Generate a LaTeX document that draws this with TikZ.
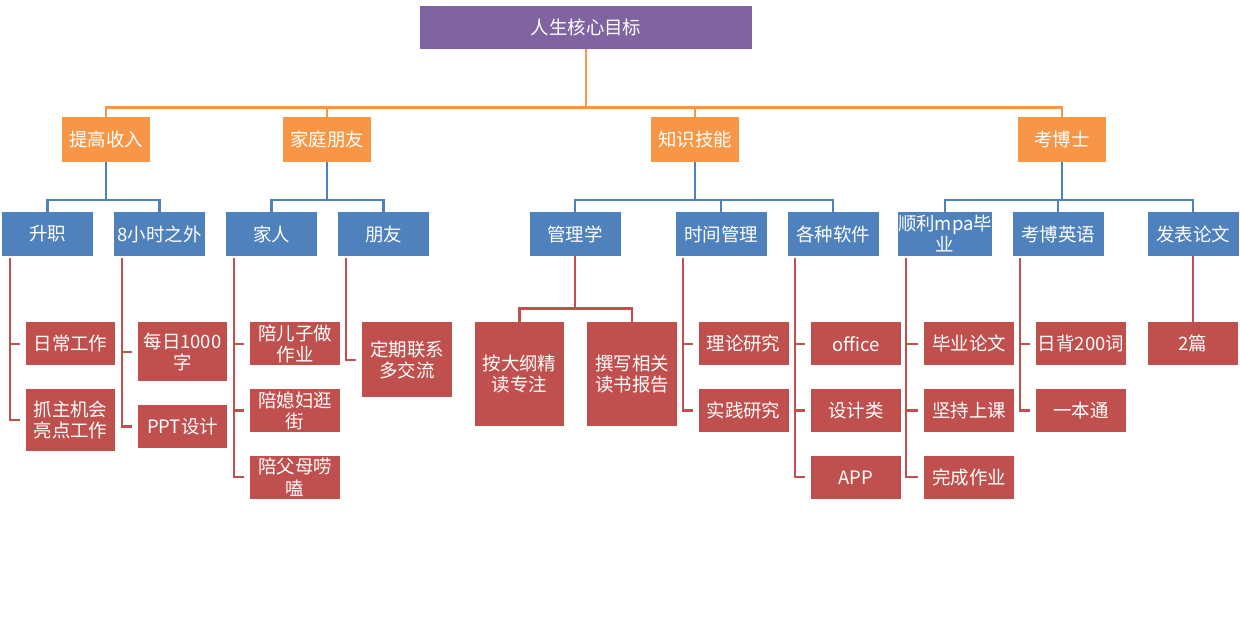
\documentclass[tikz,border=0pt]{standalone}
\usepackage{fontspec}
\newfontfamily\cjk{Noto Sans CJK SC}
\usetikzlibrary{positioning}
\definecolor{goalpurple}{HTML}{8064A2}
\definecolor{areaorange}{HTML}{F79646}
\definecolor{topicblue}{HTML}{4F81BD}
\definecolor{taskred}{HTML}{C0504D}
\tikzset{
  box/.style={rectangle, inner sep=0pt, align=center, text=white,
    font=\cjk\fontsize{10.5}{12}\selectfont},
  goal/.style={box, fill=goalpurple, minimum width=6.64cm, minimum height=0.86cm},
  area/.style={box, fill=areaorange, minimum width=1.76cm, minimum height=0.9cm},
  topic/.style={box, fill=topicblue, minimum width=1.82cm, minimum height=0.88cm},
  task/.style={box, fill=taskred, minimum width=1.8cm, minimum height=0.86cm},
}

\begin{document}
\begin{tikzpicture}[
  x=0.02cm, y=-0.02cm,
  node distance=0.46cm,
  arealine/.style={draw=areaorange, line width=1.6pt},
  topicline/.style={draw=topicblue, line width=1.3pt},
  taskline/.style={draw=taskred, line width=1.3pt}
]
\useasboundingbox (0,0) rectangle (1240,620);

% goal and areas
\node[goal] (root) at (586,27.5) {人生核心目标};
\node[area] (inc) at (106,139.5) {提高收入};
\node[area] (fam) at (327,139.5) {家庭朋友};
\node[area] (know) at (695,139.5) {知识技能};
\node[area] (phd) at (1062,139.5) {考博士};

% topics
\node[topic] (promo) at (47.5,234) {升职};
\node[topic] (extra) at (159.5,234) {8小时之外};
\node[topic] (kin) at (271.5,234) {家人};
\node[topic] (pal) at (383.5,234) {朋友};
\node[topic] (mgmt) at (575,234) {管理学};
\node[topic] (timem) at (721,234) {时间管理};
\node[topic] (soft) at (833,234) {各种软件};
\node[topic] (mpa) at (945,234) {顺利mpa毕\\业};
\node[topic] (eng) at (1058,234) {考博英语};
\node[topic] (paper) at (1193,234) {发表论文};

% tasks
\node[task, anchor=north] (w1) at (70.5,322) {日常工作};
\node[task, below=of w1, minimum height=1.24cm] (w2) {抓主机会\\亮点工作};
\node[task, anchor=north, minimum height=1.18cm] (x1) at (182.5,322) {每日1000\\字};
\node[task, below=of x1] (x2) {PPT设计};
\node[task, anchor=north] (k1) at (295,322) {陪儿子做\\作业};
\node[task, below=of k1] (k2) {陪媳妇逛\\街};
\node[task, below=of k2] (k3) {陪父母唠\\嗑};
\node[task, anchor=north, minimum height=1.5cm] (p1) at (407,322) {定期联系\\多交流};
\node[task, anchor=north, minimum height=2.08cm] (g1) at (519.5,322) {按大纲精\\读专注};
\node[task, anchor=north, minimum height=2.08cm] (g2) at (632,322) {撰写相关\\读书报告};
\node[task, anchor=north] (tm1) at (743.5,322) {理论研究};
\node[task, below=of tm1] (tm2) {实践研究};
\node[task, anchor=north] (s1) at (856,322) {office};
\node[task, below=of s1] (s2) {设计类};
\node[task, below=of s2] (s3) {APP};
\node[task, anchor=north] (m1) at (969,322) {毕业论文};
\node[task, below=of m1] (m2) {坚持上课};
\node[task, below=of m2] (m3) {完成作业};
\node[task, anchor=north] (e1) at (1081,322) {日背200词};
\node[task, below=of e1] (e2) {一本通};
\node[task, anchor=north] (n1) at (1193,322) {2篇};

% connectors
\foreach \c in {inc,fam,know,phd}
  \draw[arealine] (root.south) -- ++(0,58) -| (\c.north);
\foreach \p/\c in {inc/promo,inc/extra,fam/kin,fam/pal,know/mgmt,know/timem,know/soft,phd/mpa,phd/eng,phd/paper}
  \draw[topicline] (\p.south) -- ++(0,38) -| (\c.north);
\foreach \p/\c in {promo/w1,promo/w2,extra/x1,extra/x2,kin/k1,kin/k2,kin/k3,pal/p1,timem/tm1,timem/tm2,soft/s1,soft/s2,soft/s3,mpa/m1,mpa/m2,mpa/m3,eng/e1,eng/e2}
  \draw[taskline] ([shift={(8,2)}]\p.south west) |- ([xshift=-3pt]\c.west);
\foreach \c in {g1,g2}
  \draw[taskline] (mgmt.south) -- ++(0,52) -| (\c.north);
\draw[taskline] (paper.south) -- (n1.north);

\end{tikzpicture}
\end{document}
